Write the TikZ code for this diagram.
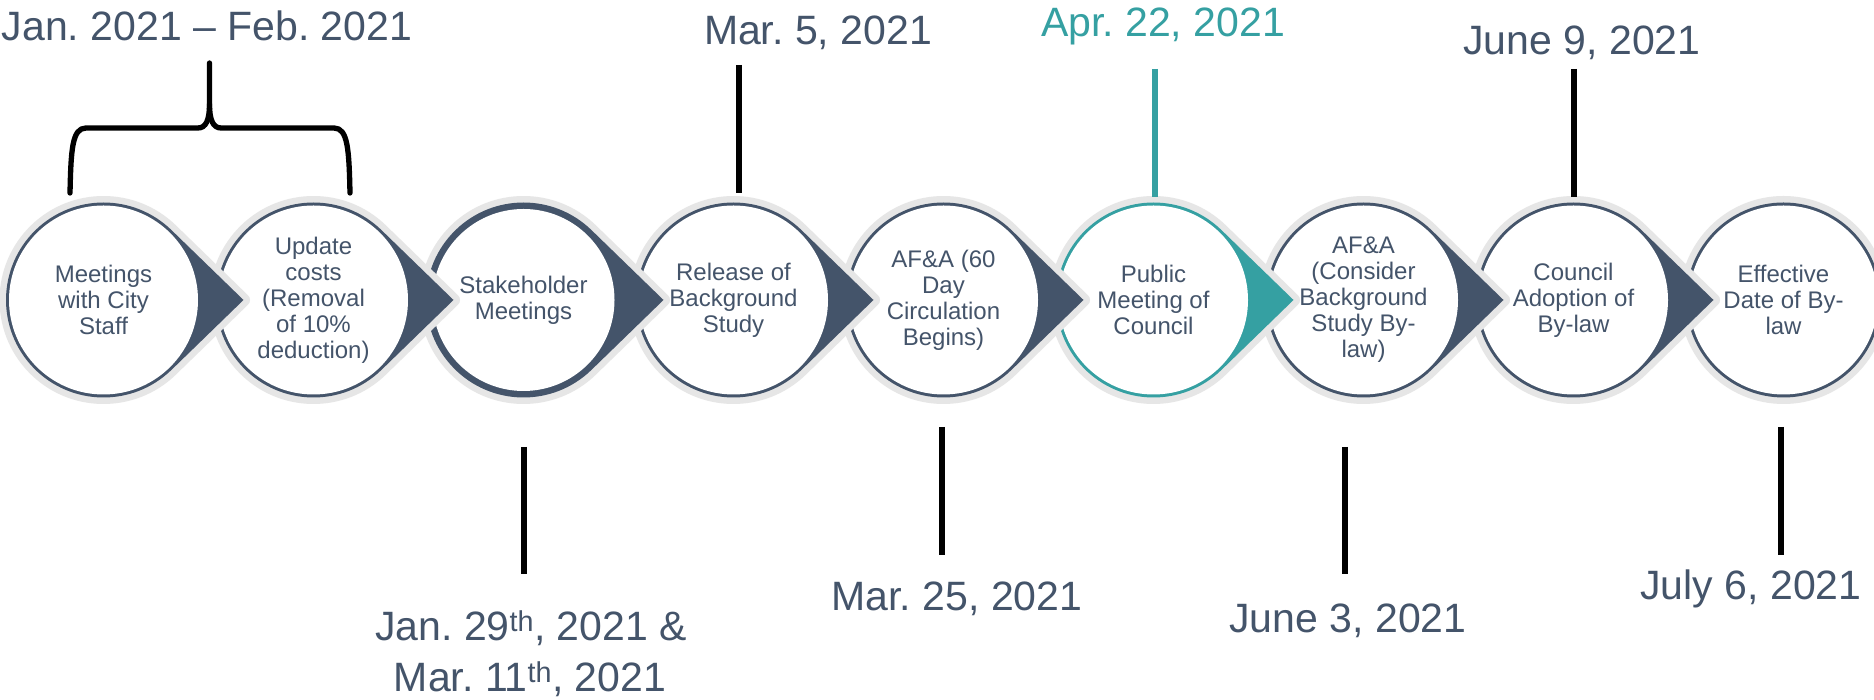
\documentclass[tikz,border=0pt]{standalone}
\usepackage{fontspec}
\setmainfont{Liberation Sans}
\frenchspacing
\definecolor{tlSlate}{HTML}{44546A}
\definecolor{tlTeal}{HTML}{35A0A2}
\definecolor{tlGray}{HTML}{E6E6E6}
\tikzset{
  dropshape/.style={fill=#1, preaction={draw=tlGray, line width=13pt, line join=round}},
  circtext/.style={align=center, text=tlSlate, font=\fontsize{24}{26}\selectfont, inner sep=0pt},
  datelbl/.style={text=tlSlate, font=\fontsize{41}{49}\selectfont, anchor=base, inner sep=0pt},
  tickline/.style={line width=5.5pt, black},
  bracepath/.style={line width=5.3pt, black, line join=round, line cap=round}
}
\newcommand\tlDrop[3]{%
  \begin{scope}[shift={(#1,400)}]
    \path[dropshape=#2] (67.9,69.97) -- (140,0) -- (67.9,-69.97)
      arc[start angle=-45.86, end angle=-314.14, radius=97.5] -- cycle;
    \fill[white] (0,0) circle[radius=#3];
  \end{scope}}
\begin{document}
\begin{tikzpicture}[x=1pt,y=1pt]
\useasboundingbox (0,0) rectangle (1874,700);
\clip (0,0) rectangle (1874,700);
\fill[white] (0,0) rectangle (1874,700);
% last circle (tip lies outside the picture)
\path[fill=tlSlate, preaction={draw=tlGray, line width=13pt}] (1783.5,400) circle[radius=97.5];
\fill[white] (1783.5,400) circle[radius=94.5];
% teardrops drawn right to left
\tlDrop{1573.5}{tlSlate}{94.5}
\tlDrop{1363.5}{tlSlate}{94.5}
\tlDrop{1153.5}{tlTeal}{94.5}
\tlDrop{943.5}{tlSlate}{94.5}
\tlDrop{733.5}{tlSlate}{94.5}
\tlDrop{523.5}{tlSlate}{91}
\tlDrop{313.5}{tlSlate}{94.5}
\tlDrop{103.5}{tlSlate}{94.5}
% circle texts
\node[circtext] (c0) at (103.5,400) {Meetings\\with City\\Staff};
\node[circtext] (c1) at (313.5,400) {Update\\costs\\(Removal\\of 10\%\\deduction)};
\node[circtext] (c2) at (523.5,400) {Stakeholder\\Meetings};
\node[circtext] (c3) at (733.5,400) {Release of\\Background\\Study};
\node[circtext] (c4) at (943.5,400) {AF\&A (60\\Day\\Circulation\\Begins)};
\node[circtext] (c5) at (1153.5,400) {Public\\Meeting of\\Council};
\node[circtext] (c6) at (1363.5,400) {AF\&A\\(Consider\\Background\\Study By-\\law)};
\node[circtext] (c7) at (1573.5,400) {Council\\Adoption of\\By-law};
\node[circtext] (c8) at (1783.5,400) {Effective\\Date of By-\\law};
% top labels
\node[datelbl] (d01) at (207,659) {Jan. 2021 -- Feb. 2021};
\node[datelbl] (d3) at (818,655) {Mar. 5, 2021};
\node[datelbl, text=tlTeal] (d5) at (1163,663) {Apr. 22, 2021};
\node[datelbl] (d7) at (1582,645) {June 9, 2021};
% bottom labels
\node[datelbl] (d2a) at (531,59) {Jan. 29\textsuperscript{th}, 2021 \&};
\node[datelbl] (d2b) at (530,8) {Mar. 11\textsuperscript{th}, 2021};
\node[datelbl] (d4) at (957,89) {Mar. 25, 2021};
\node[datelbl] (d6) at (1348,67) {June 3, 2021};
\node[datelbl] (d8) at (1751,100) {July 6, 2021};
% brace
\coordinate (bl) at (70,507);
\coordinate (br) at (350,507);
\coordinate (btop) at (209.5,637);
\draw[bracepath] (bl) .. controls (71,550) and (72,572) .. (86,572) -- (198,572)
   .. controls (206,572) and (209.5,580) .. (209.5,596) -- (btop);
\draw[bracepath] (br) .. controls (349,550) and (348,572) .. (334,572) -- (221,572)
   .. controls (213,572) and (209.5,580) .. (209.5,596);
% tick lines
\coordinate (t3a) at (739,635); \coordinate (t3b) at (739,507);
\coordinate (t5a) at (1155,631); \coordinate (t5b) at (1155,503);
\coordinate (t7a) at (1574,631); \coordinate (t7b) at (1574,503);
\coordinate (t2a) at (524,253); \coordinate (t2b) at (524,126);
\coordinate (t4a) at (942,273); \coordinate (t4b) at (942,145);
\coordinate (t6a) at (1345,253); \coordinate (t6b) at (1345,126);
\coordinate (t8a) at (1781,273); \coordinate (t8b) at (1781,145);
\draw[tickline] (t3a) -- (t3b);
\draw[tickline, tlTeal] (t5a) -- (t5b);
\draw[tickline] (t7a) -- (t7b);
\draw[tickline] (t2a) -- (t2b);
\draw[tickline] (t4a) -- (t4b);
\draw[tickline] (t6a) -- (t6b);
\draw[tickline] (t8a) -- (t8b);
\end{tikzpicture}
\end{document}
